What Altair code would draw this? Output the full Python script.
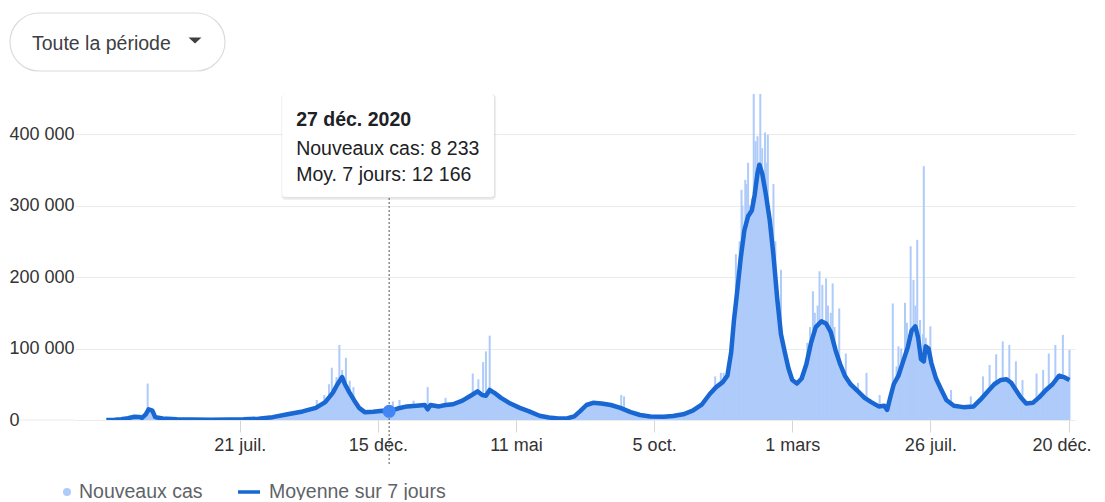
import altair as alt
import pandas as pd

# ---------------- data ----------------
avg_dates = [
    "2020-03-01", "2020-03-10", "2020-03-17", "2020-03-24", "2020-03-31", "2020-04-05",
    "2020-04-08", "2020-04-12", "2020-04-15", "2020-04-19", "2020-04-22", "2020-04-30",
    "2020-05-15", "2020-06-01", "2020-06-20", "2020-07-10", "2020-07-25", "2020-08-10",
    "2020-08-25", "2020-09-10", "2020-09-26", "2020-10-10", "2020-10-20", "2020-10-28",
    "2020-11-02", "2020-11-07", "2020-11-10", "2020-11-15", "2020-11-20", "2020-11-25",
    "2020-12-01", "2020-12-10", "2020-12-20", "2020-12-27", "2021-01-05", "2021-01-15",
    "2021-01-25", "2021-02-03", "2021-02-06", "2021-02-09", "2021-02-18", "2021-02-25",
    "2021-03-05", "2021-03-15", "2021-03-25", "2021-03-31", "2021-04-05", "2021-04-09",
    "2021-04-13", "2021-04-18", "2021-04-25", "2021-05-05", "2021-05-15", "2021-05-25",
    "2021-06-05", "2021-06-15", "2021-06-25", "2021-07-05", "2021-07-12", "2021-07-18",
    "2021-07-25", "2021-08-01", "2021-08-10", "2021-08-20", "2021-08-30", "2021-09-10",
    "2021-09-20", "2021-10-01", "2021-10-15", "2021-10-25", "2021-11-05", "2021-11-15",
    "2021-11-25", "2021-12-03", "2021-12-10", "2021-12-17", "2021-12-22", "2021-12-26",
    "2021-12-29", "2022-01-01", "2022-01-05", "2022-01-09", "2022-01-13", "2022-01-17",
    "2022-01-20", "2022-01-23", "2022-01-25", "2022-01-28", "2022-02-01", "2022-02-05",
    "2022-02-09", "2022-02-13", "2022-02-17", "2022-02-21", "2022-02-25", "2022-03-01",
    "2022-03-06", "2022-03-11", "2022-03-16", "2022-03-21", "2022-03-26", "2022-04-01",
    "2022-04-06", "2022-04-11", "2022-04-16", "2022-04-21", "2022-04-26", "2022-05-02",
    "2022-05-10", "2022-05-17", "2022-05-24", "2022-06-01", "2022-06-07", "2022-06-10",
    "2022-06-13", "2022-06-17", "2022-06-22", "2022-06-27", "2022-07-02", "2022-07-06",
    "2022-07-10", "2022-07-13", "2022-07-16", "2022-07-19", "2022-07-21", "2022-07-24",
    "2022-07-27", "2022-08-01", "2022-08-06", "2022-08-12", "2022-08-20", "2022-08-30",
    "2022-09-10", "2022-09-17", "2022-09-25", "2022-10-02", "2022-10-09", "2022-10-15",
    "2022-10-20", "2022-10-25", "2022-10-30", "2022-11-05", "2022-11-12", "2022-11-19",
    "2022-11-26", "2022-12-03", "2022-12-10", "2022-12-15", "2022-12-21",
]
avg_values = [
    100, 300, 1000, 2500, 4500, 4300,
    3000, 8000, 15000, 13000, 4000, 2000,
    1000, 600, 500, 600, 900, 1800,
    4000, 8000, 12000, 17000, 25000, 38000,
    50000, 60000, 50000, 38000, 27000, 17000,
    11000, 11500, 13000, 12166, 16000, 19000,
    20000, 21000, 15000, 21000, 19000, 21000,
    22000, 27000, 35000, 40000, 35000, 34000,
    42000, 38000, 31000, 23000, 17000, 12000,
    6000, 3500, 2200, 2500, 5000, 12000,
    21000, 24000, 23000, 21000, 17000, 11000,
    7000, 5000, 4500, 5500, 8000, 13000,
    22000, 36000, 46000, 53000, 62000, 95000,
    140000, 175000, 225000, 265000, 285000, 293000,
    315000, 345000, 357000, 345000, 315000, 280000,
    230000, 170000, 120000, 95000, 72000, 56000,
    51000, 58000, 78000, 108000, 130000, 138000,
    135000, 123000, 98000, 78000, 62000, 50000,
    40000, 31000, 25000, 19000, 20000, 14000,
    30000, 50000, 62000, 82000, 102000, 125000,
    131000, 115000, 85000, 82000, 103000, 100000,
    80000, 58000, 44000, 28000, 20000, 18000,
    19000, 28000, 40000, 50000, 56000, 57000,
    52000, 42000, 32000, 23000, 24000, 32000,
    42000, 50000, 62000, 60000, 56000,
]

spike_dates = [
    "2020-04-14", "2020-10-11", "2020-10-19", "2020-10-24", "2020-10-27", "2020-11-01",
    "2020-11-04", "2020-11-07", "2020-11-11", "2020-11-15", "2020-11-19", "2020-12-31",
    "2021-01-07", "2021-01-22", "2021-02-06", "2021-02-25", "2021-03-26", "2021-04-01",
    "2021-04-06", "2021-04-09", "2021-04-13", "2021-08-31", "2021-09-03", "2021-12-09",
    "2021-12-15", "2021-12-18", "2021-12-26", "2021-12-31", "2022-01-04", "2022-01-06",
    "2022-01-07", "2022-01-10", "2022-01-11", "2022-01-13", "2022-01-15", "2022-01-17",
    "2022-01-19", "2022-01-21", "2022-01-23", "2022-01-24", "2022-01-26", "2022-01-28",
    "2022-01-31", "2022-02-01", "2022-02-03", "2022-02-05", "2022-02-09", "2022-02-11",
    "2022-02-17", "2022-03-17", "2022-03-20", "2022-03-23", "2022-03-25", "2022-03-28",
    "2022-03-30", "2022-04-02", "2022-04-06", "2022-04-08", "2022-04-11", "2022-04-13",
    "2022-04-15", "2022-04-20", "2022-04-27", "2022-05-10", "2022-05-19", "2022-06-02",
    "2022-06-16", "2022-06-20", "2022-06-22", "2022-06-25", "2022-06-29", "2022-07-01",
    "2022-07-03", "2022-07-05", "2022-07-08", "2022-07-10", "2022-07-12", "2022-07-15",
    "2022-07-18", "2022-07-19", "2022-07-21", "2022-07-26", "2022-08-17", "2022-09-07",
    "2022-09-20", "2022-09-27", "2022-10-04", "2022-10-11", "2022-10-18", "2022-10-25",
    "2022-11-01", "2022-11-16", "2022-11-23", "2022-11-29", "2022-12-06", "2022-12-14",
    "2022-12-21",
]
spike_values = [
    51000, 28000, 35000, 50000, 73000, 60000,
    105000, 70000, 87000, 55000, 46000, 26000,
    28000, 27000, 46000, 31000, 65000, 57000,
    81000, 96000, 118000, 35000, 33000, 61000,
    66000, 66000, 89000, 232000, 250000, 322000,
    300000, 336000, 330000, 360000, 300000, 310000,
    465000, 390000, 397000, 340000, 501000, 380000,
    402000, 360000, 399000, 290000, 330000, 250000,
    210000, 108000, 130000, 180000, 150000, 160000,
    208000, 189000, 198000, 160000, 150000, 191000,
    130000, 156000, 93000, 52000, 66000, 35000,
    163000, 75000, 103000, 100000, 164000, 136000,
    120000, 243000, 196000, 160000, 252000, 140000,
    120000, 355000, 115000, 131000, 42000, 33000,
    61000, 77000, 92000, 110000, 105000, 82000,
    56000, 65000, 70000, 93000, 105000, 119000,
    98000,
]

x_tick_dates = ["2020-07-21", "2020-12-15", "2021-05-11", "2021-10-05",
                "2022-03-01", "2022-07-26", "2022-12-20"]
y_ticks = [0, 100000, 200000, 300000, 400000]
month_labels = ["janv.", "févr.", "mars", "avr.", "mai", "juin",
                "juil.", "août", "sept.", "oct.", "nov.", "déc."]

tooltip_date = "2020-12-27"
tooltip_cases = 8233
tooltip_avg = 12166
tooltip_title = "27 déc. 2020"
tooltip_cases_label = "Nouveaux cas: 8 233"
tooltip_avg_label = "Moy. 7 jours: 12 166"
series_names = ["Nouveaux cas", "Moyenne sur 7 jours"]
period_label = "Toute la période"

x_domain = ["2020-02-02", "2022-12-21T14:00:00"]
y_max = 456000

# ---------------- styling ----------------
FONT = "Liberation Sans"
LIGHT = "#aecbfa"
DARK = "#1967d2"
POINT = "#4285f4"
GRID = "#ebebeb"


def ms(s):
    return int(pd.Timestamp(s, tz="UTC").value // 10**6)


avg_df = pd.DataFrame({"date": avg_dates, "value": avg_values})
spike_df = pd.DataFrame({"date": spike_dates, "value": spike_values})
tip_df = pd.DataFrame({"date": [tooltip_date], "cases": [tooltip_cases], "value": [tooltip_avg]})

xscale = alt.Scale(type="utc", domain=[ms(x_domain[0]), ms(x_domain[1])])
yscale = alt.Scale(domain=[0, y_max], nice=False, zero=True)

month_arr = "[" + ",".join("'" + m + "'" for m in month_labels) + "]"
last_tick_test = "datum.value >= " + str(ms(x_tick_dates[-1]))
x_axis = alt.Axis(
    values=[ms(d) for d in x_tick_dates],
    labelExpr="utcdate(datum.value) + ' ' + " + month_arr + "[utcmonth(datum.value)]",
    title=None, grid=False, domain=False, ticks=True, tickSize=12,
    tickColor="#d5d5d5", labelFontSize=18, labelColor="#333333",
    labelPadding=4, labelFont=FONT, labelFlush=False, labelOverlap=False,
    labelOffset={"condition": {"test": last_tick_test, "value": -7}, "value": 0},
)
y_axis = alt.Axis(
    values=y_ticks,
    labelExpr="datum.value == 0 ? '0' : format(datum.value / 1000, 'd') + ' 000'",
    title=None, domain=False, ticks=False, grid=True, gridColor=GRID,
    gridWidth=1, labelAlign="left", labelPadding=66, labelFontSize=18,
    labelColor="#333333", labelFont=FONT,
)

X = alt.X("date:T", scale=xscale, axis=x_axis)
Y = alt.Y("value:Q", scale=yscale, axis=y_axis)

# short extension of the zero baseline towards the "0" label
base_ext = alt.Chart(pd.DataFrame({"value": [0]})).mark_rule(color=GRID, strokeWidth=1).encode(
    x=alt.value(-55), x2=alt.value(0), y=Y)

area = alt.Chart(avg_df).mark_area(color=LIGHT, clip=True).encode(x=X, y=Y)
bars = alt.Chart(spike_df).mark_bar(color=LIGHT, width=2, clip=True).encode(x=X, y=Y)
line = alt.Chart(avg_df).mark_line(color=DARK, strokeWidth=4.5, strokeJoin="round",
                                   clip=True).encode(x=X, y=Y)

guide = alt.Chart(tip_df).mark_rule(color="#555555", strokeDash=[2, 2], strokeWidth=1).encode(
    x=X, y=alt.value(104), y2=alt.value(372))
dot = alt.Chart(tip_df).mark_circle(size=170, color=POINT, opacity=1).encode(x=X, y=Y)

shadow1 = alt.Chart(tip_df).mark_rect(color="#000000", opacity=0.06, cornerRadius=4,
                                      xOffset=-108, x2Offset=107, yOffset=0, y2Offset=3).encode(
    x=X, x2=alt.X2("date"), y=alt.value(0), y2=alt.value(103))
shadow2 = alt.Chart(tip_df).mark_rect(color="#000000", opacity=0.06, cornerRadius=4,
                                      xOffset=-107, x2Offset=106, yOffset=0, y2Offset=1.5).encode(
    x=X, x2=alt.X2("date"), y=alt.value(0), y2=alt.value(103))
box = alt.Chart(tip_df).mark_rect(color="#ffffff", cornerRadius=3,
                                  xOffset=-107, x2Offset=105).encode(
    x=X, x2=alt.X2("date"), y=alt.value(0), y2=alt.value(103))
tip_title = alt.Chart(tip_df).mark_text(align="left", baseline="alphabetic", dx=-93,
                                        fontSize=19.5, fontWeight="bold", color="#202124",
                                        font=FONT).encode(
    x=X, y=alt.value(31.5), text=alt.value(tooltip_title))
tip_l2 = alt.Chart(tip_df).mark_text(align="left", baseline="alphabetic", dx=-93,
                                     fontSize=19.5, color="#202124", font=FONT).encode(
    x=X, y=alt.value(61), text=alt.value(tooltip_cases_label))
tip_l3 = alt.Chart(tip_df).mark_text(align="left", baseline="alphabetic", dx=-93,
                                     fontSize=19.5, color="#202124", font=FONT).encode(
    x=X, y=alt.value(87), text=alt.value(tooltip_avg_label))

# period selector button (above plot)
btn_df = pd.DataFrame({"label": [period_label]})
btn = alt.Chart(btn_df).mark_rect(fill="#ffffff", stroke="#dadce0", strokeWidth=1.2,
                                  cornerRadius=29).encode(
    x=alt.value(-65), x2=alt.value(150), y=alt.value(-81), y2=alt.value(-23))
btn_text = alt.Chart(btn_df).mark_text(align="left", baseline="alphabetic", fontSize=19.5,
                                       color="#3c4043", font=FONT).encode(
    x=alt.value(-43), y=alt.value(-44), text="label:N")
btn_arrow = alt.Chart(btn_df).mark_point(shape="M-1,-0.45L1,-0.45L0,0.45Z", size=169,
                                         filled=True, color="#3c4043", opacity=1).encode(
    x=alt.value(120), y=alt.value(-53.5))

# legend (below axis)
leg_df = pd.DataFrame({"name": series_names})
leg_dot = alt.Chart(leg_df).transform_filter(alt.datum.name == series_names[0]).mark_circle(
    size=64, color=LIGHT, opacity=1).encode(x=alt.value(-8), y=alt.value(398))
leg_t1 = alt.Chart(leg_df).transform_filter(alt.datum.name == series_names[0]).mark_text(
    align="left", baseline="alphabetic", fontSize=19.5, color="#5f6368", font=FONT).encode(
    x=alt.value(4), y=alt.value(403.5), text="name:N")
leg_line = alt.Chart(leg_df).transform_filter(alt.datum.name == series_names[1]).mark_rule(
    color=DARK, strokeWidth=3.5).encode(x=alt.value(163), x2=alt.value(185), y=alt.value(398))
leg_t2 = alt.Chart(leg_df).transform_filter(alt.datum.name == series_names[1]).mark_text(
    align="left", baseline="alphabetic", fontSize=19.5, color="#5f6368", font=FONT).encode(
    x=alt.value(194), y=alt.value(403.5), text="name:N")

chart = alt.layer(
    base_ext, area, bars, line, guide, dot, shadow1, shadow2, box, tip_title, tip_l2, tip_l3,
    btn, btn_text, btn_arrow, leg_dot, leg_t1, leg_line, leg_t2,
).properties(
    width=1000, height=326,
    padding={"left": 67, "top": 86, "right": 22, "bottom": 80},
    autosize=alt.AutoSizeParams(type="none"),
    background="white",
).configure(font=FONT).configure_view(strokeWidth=0, stroke=None)

chart.save("out.html", embed_options={"renderer": "svg", "actions": False})
